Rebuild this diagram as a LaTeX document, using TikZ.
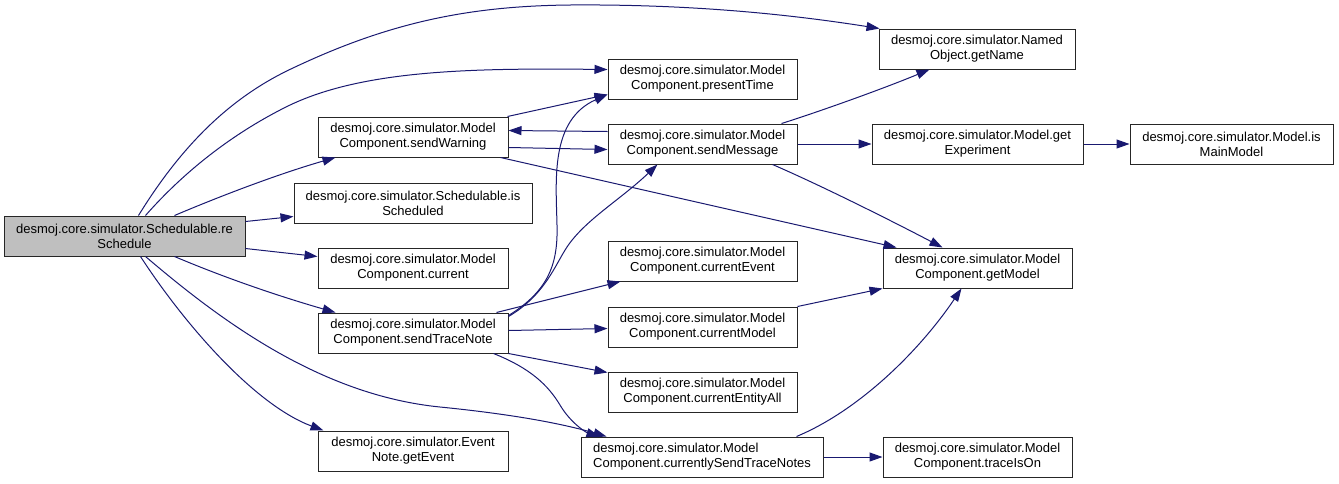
\documentclass[tikz,border=0pt]{standalone}
\usepackage{fontspec}
\setmainfont{Liberation Sans}
\usetikzlibrary{arrows.meta,calc}
\definecolor{edgecol}{HTML}{191970}
\definecolor{rootfill}{HTML}{BFBFBF}
\begin{document}
\begin{tikzpicture}[x=1pt,y=-1pt,
  box/.style={draw=black!85, line width=1pt, fill=white, minimum height=40pt, inner sep=0pt, align=center, font=\fontsize{13}{15}\selectfont},
  call/.style={draw=edgecol, line width=1pt, -{Triangle[length=13pt,width=9pt]}, fill=none}]
\useasboundingbox (0,0) rectangle (1339,483);

% nodes
\node[box, fill=rootfill, minimum width=241pt] (root) at (124.5,236) {desmoj.core.simulator.Schedulable.re\\Schedule};
\node[box, minimum width=190pt] (sw) at (413,137) {desmoj.core.simulator.Model\\Component.sendWarning};
\node[box, minimum width=238pt] (isS) at (413,203) {desmoj.core.simulator.Schedulable.is\\Scheduled};
\node[box, minimum width=190pt] (cur) at (413,268) {desmoj.core.simulator.Model\\Component.current};
\node[box, minimum width=190pt] (stn) at (413,333) {desmoj.core.simulator.Model\\Component.sendTraceNote};
\node[box, minimum width=190pt] (ge) at (413,451) {desmoj.core.simulator.Event\\Note.getEvent};
\node[box, minimum width=189pt] (pt) at (702.5,79) {desmoj.core.simulator.Model\\Component.presentTime};
\node[box, minimum width=189pt] (sm) at (702.5,144) {desmoj.core.simulator.Model\\Component.sendMessage};
\node[box, minimum width=189pt] (ce) at (702.5,261) {desmoj.core.simulator.Model\\Component.currentEvent};
\node[box, minimum width=189pt] (cm) at (702.5,327) {desmoj.core.simulator.Model\\Component.currentModel};
\node[box, minimum width=189pt] (cea) at (702.5,392) {desmoj.core.simulator.Model\\Component.currentEntityAll};
\node[box, minimum width=242pt, align=left] (cstn) at (702,457) {desmoj.core.simulator.Model\\Component.currentlySendTraceNotes};
\node[box, minimum width=196pt] (gn) at (977,49) {desmoj.core.simulator.Named\\Object.getName};
\node[box, minimum width=211pt] (gx) at (977.5,144) {desmoj.core.simulator.Model.get\\Experiment};
\node[box, minimum width=189pt] (gm) at (977.5,268) {desmoj.core.simulator.Model\\Component.getModel};
\node[box, minimum width=189pt] (tio) at (977.5,457) {desmoj.core.simulator.Model\\Component.traceIsOn};
\node[box, minimum width=203pt] (imm) at (1231.5,144) {desmoj.core.simulator.Model.is\\MainModel};

% edges from root
\draw[call] ($(root.north west)+(135,0)$) .. controls (185,140) and (235,95) .. (293,68)
  .. controls (390,22) and (470,6) .. (570,5) .. controls (700,4) and (800,16) .. ($(gn.north west)+(1,0)$);
\draw[call] ($(root.north west)+(142,0)$) .. controls (190,165) and (240,130) .. (286,107)
  .. controls (360,70) and (470,68) .. ($(pt.north west)+(0,11)$);
\draw[call] ($(root.north west)+(171,0)$) .. controls (230,192) and (285,172) .. ($(sw.south west)+(18,0)$);
\draw[call] ($(root.north east)+(0,6)$) -- ($(isS.north west)+(0,34)$);
\draw[call] ($(root.north east)+(0,33)$) -- ($(cur.north west)+(0,9)$);
\draw[call] ($(root.south west)+(171,0)$) .. controls (230,280) and (285,298) .. ($(stn.north west)+(18,0)$);
\draw[call] ($(root.south west)+(137,0)$) .. controls (185,325) and (255,405) .. ($(ge.north west)+(6,0)$);
\draw[call] ($(root.south west)+(142,0)$) .. controls (220,320) and (320,395) .. (440,407)
  .. controls (510,414) and (560,423) .. ($(cstn.north west)+(26,0)$);

% edges from sendWarning
\draw[call] ($(sw.north east)+(-1,0)$) -- ($(pt.north west)+(0,36)$);
\draw[call] ($(sw.north east)+(0,31)$) -- ($(sm.north west)+(0,26)$);
\draw[call] ($(sw.south east)+(-8,0)$) -- ($(gm.north west)+(14,0)$);

% edges from sendMessage
\draw[call] ($(sm.north west)+(0,8)$) -- ($(sw.north east)+(0,14)$);
\draw[call] ($(sm.north east)+(-16,0)$) .. controls (815,113) and (880,90) .. ($(gn.south west)+(51,0)$);
\draw[call] (sm.east) -- (gx.west);
\draw[call] ($(sm.south east)+(-25,0)$) .. controls (820,185) and (890,220) .. ($(gm.north west)+(60,0)$);
\draw[call] (gx.east) -- (imm.west);

% edges from sendTraceNote
\draw[call] ($(stn.north east)+(0,3)$) .. controls (550,290) and (558,262) .. (557,225)
  .. controls (556,180) and (550,120) .. ($(pt.north west)+(0,36)$);
\draw[call] ($(stn.north east)+(0,4)$) .. controls (545,295) and (555,265) .. (567,247)
  .. controls (585,220) and (620,200) .. ($(sm.south west)+(50,0)$);
\draw[call] ($(stn.north east)+(-12,0)$) -- ($(ce.south west)+(13,0)$);
\draw[call] ($(stn.north east)+(0,18)$) -- ($(cm.north west)+(0,22)$);
\draw[call] (stn.south east) -- ($(cea.north west)+(0,1)$);
\draw[call] ($(stn.south east)+(-15,0)$) .. controls (530,368) and (548,385) .. (560,405)
  .. controls (570,422) and (585,432) .. ($(cstn.north west)+(19,0)$);

% remaining
\draw[call] (cm.north east) -- (gm.south west);
\draw[call] ($(cstn.north east)+(-27,0)$) .. controls (860,410) and (920,350) .. ($(gm.south west)+(79,0)$);
\draw[call] (cstn.east) -- (tio.west);
\end{tikzpicture}
\end{document}
